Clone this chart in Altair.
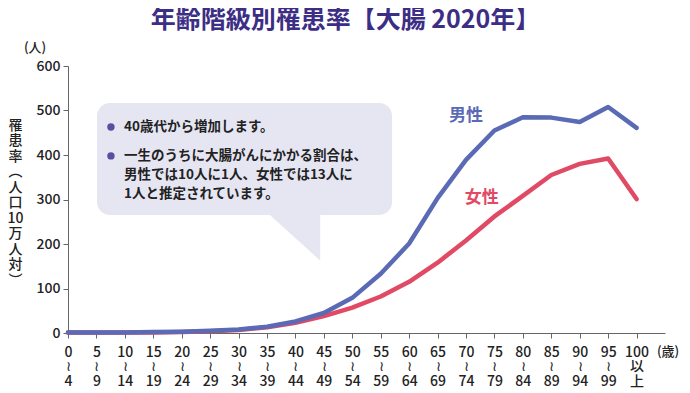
import altair as alt
import pandas as pd

# ---- data ----
age_index = list(range(21))
age_labels = ["0|≀|4", "5|≀|9", "10|≀|14", "15|≀|19", "20|≀|24", "25|≀|29", "30|≀|34",
              "35|≀|39", "40|≀|44", "45|≀|49", "50|≀|54", "55|≀|59", "60|≀|64", "65|≀|69",
              "70|≀|74", "75|≀|79", "80|≀|84", "85|≀|89", "90|≀|94", "95|≀|99", "100|以|上"]
male = [1, 1, 1, 2, 3, 5, 8, 14, 26, 45, 79, 133, 201, 303, 389, 455, 485, 484, 474, 508, 461]
female = [1, 1, 1, 1, 2, 4, 7, 13, 23, 38, 57, 82, 115, 158, 208, 262, 308, 355, 380, 392, 301]

title_text = "年齢階級別罹患率【大腸 2020年】"
y_title = ["罹", "患", "率", "︵", "人", "口", "10", "万", "人", "対", "︶"]
note_lines = ["40歳代から増加します。",
              "一生のうちに大腸がんにかかる割合は、",
              "男性では10人に1人、女性では13人に",
              "1人と推定されています。"]

FONT = "Noto Sans CJK JP"
BLUE = "#5a6ab4"
RED = "#e04a64"
PURPLE = "#3c2e85"
BOX = "#e6e6f3"

df = pd.DataFrame({"i": age_index, "male": male, "female": female})

label_arr = "[" + ",".join("'" + s + "'" for s in age_labels) + "]"

xscale = alt.Scale(domain=[0, 21], nice=False, zero=False)
yscale = alt.Scale(domain=[0, 600], nice=False)

xaxis = alt.Axis(values=age_index, labelExpr=f"split({label_arr}[datum.value], '|')",
                 labelLineHeight=14.5, labelFontSize=14, labelFont=FONT, labelColor="#222",
                 labelFontWeight=500, labelPadding=7, tickSize=5, tickColor="#666",
                 domainColor="#666", grid=False, title=None, labelAngle=0,
                 labelBaseline="top", labelFlush=False, labelOverlap=False, labelBound=False)
yaxis = alt.Axis(values=[0, 100, 200, 300, 400, 500, 600], labelFontSize=14, labelFont=FONT,
                 labelColor="#222", labelFontWeight=500, tickSize=5, tickColor="#666",
                 domainColor="#666", grid=False, labelPadding=3,
                 title=y_title, titleAngle=0, titleFont=FONT, titleFontSize=14,
                 titleFontWeight=500, titleColor="#222", titleLineHeight=15.5,
                 titleX=-53, titleY=52, titleAlign="center", titleBaseline="top")

X = lambda f: alt.X(f, scale=xscale, axis=xaxis)
Y = lambda f: alt.Y(f, scale=yscale, axis=yaxis)

base = alt.Chart(df)

female_line = base.mark_line(color=RED, strokeWidth=4.5, strokeCap="round", strokeJoin="round").encode(
    x=X("i:Q"), y=Y("female:Q"))
male_line = base.mark_line(color=BLUE, strokeWidth=4.5, strokeCap="round", strokeJoin="round").encode(
    x=X("i:Q"), y=Y("male:Q"))

# callout box (data coordinates)
box_df = pd.DataFrame({"x": [1.02], "x2": [11.4], "y": [517], "y2": [265]})
box = alt.Chart(box_df).mark_rect(fill=BOX, cornerRadius=13).encode(
    x=X("x:Q"), x2="x2:Q", y=Y("y:Q"), y2="y2:Q")
tail_df = pd.DataFrame({"x": [7.1, 8.87], "y": [265, 163], "y2": [265, 265]})
tail = alt.Chart(tail_df).mark_area(fill=BOX).encode(
    x=X("x:Q"), y=Y("y:Q"), y2="y2:Q")

bullet_df = pd.DataFrame({"x": [1.51, 1.51], "y": [463, 398]})
bullets = alt.Chart(bullet_df).mark_circle(color="#5a4e9e", size=55, opacity=1).encode(
    x=X("x:Q"), y=Y("y:Q"))

note_df = pd.DataFrame({"x": [1.97] * 4, "y": [463, 398, 355, 312], "t": note_lines})
notes = alt.Chart(note_df).mark_text(align="left", baseline="middle", font=FONT, fontSize=13.5,
                                     fontWeight="bold", color="#222").encode(
    x=X("x:Q"), y=Y("y:Q"), text="t:N")

lab_df = pd.DataFrame({"x": [14.0, 14.55], "y": [487, 303], "t": ["男性", "女性"], "c": [BLUE, RED]})
labels = alt.Chart(lab_df).mark_text(align="center", baseline="middle", font=FONT, fontSize=17,
                                     fontWeight="bold").encode(
    x=X("x:Q"), y=Y("y:Q"), text="t:N",
    color=alt.Color("c:N", scale=None))

unit_y = pd.DataFrame({"x": [-1.55], "y": [640], "t": ["(人)"]})
unit_y_mark = alt.Chart(unit_y).mark_text(align="left", baseline="middle", font=FONT, fontSize=13,
                                          fontWeight=500, color="#222").encode(
    x=X("x:Q"), y=Y("y:Q"), text="t:N")
unit_x = pd.DataFrame({"x": [21.5], "y": [-43], "t": ["(歳)"]})
unit_x_mark = alt.Chart(unit_x).mark_text(align="right", baseline="middle", font=FONT, fontSize=13,
                                          fontWeight=500, color="#222").encode(
    x=X("x:Q"), y=Y("y:Q"), text="t:N")

chart = alt.layer(box, tail, bullets, notes, female_line, male_line, labels,
                  unit_y_mark, unit_x_mark).properties(
    width=597, height=267,
    title=alt.Title(title_text, font=FONT, fontSize=25, fontWeight="bold", color=PURPLE,
                    anchor="middle", dx=-21, offset=9),
    padding={"left": 60, "top": 58, "right": 16, "bottom": 60},
    autosize=alt.AutoSizeParams(type="none"),
).configure_view(stroke=None)

chart.save("out.html", embed_options={"renderer": "svg", "actions": False})
